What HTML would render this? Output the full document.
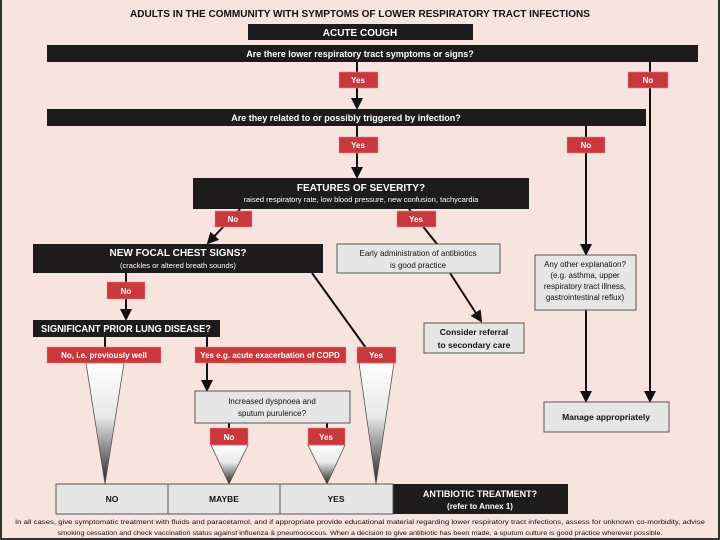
<!DOCTYPE html>
<html><head><style>
html,body{margin:0;padding:0;width:720px;height:540px;overflow:hidden;background:#f7e4df}
svg text{font-family:"Liberation Sans Narrow","Liberation Sans",sans-serif}
</style></head><body>
<svg width="720" height="540" viewBox="0 0 720 540" xmlns="http://www.w3.org/2000/svg">
<defs>
<linearGradient id="g" x1="0" y1="0" x2="0" y2="1"><stop offset="0" stop-color="#fff"/><stop offset="0.45" stop-color="#e8e8e8"/><stop offset="1" stop-color="#222"/></linearGradient>
<marker id="a" markerWidth="12" markerHeight="12" refX="10" refY="6" orient="auto" markerUnits="userSpaceOnUse"><path d="M0,0 L12,6 L0,12 Z" fill="#111"/></marker>
</defs>
<rect width="720" height="540" fill="#f7e4df"/>
<line x1="1" y1="0" x2="1" y2="540" stroke="#333" stroke-width="2"/>
<line x1="719" y1="0" x2="719" y2="540" stroke="#333" stroke-width="2"/>
<line x1="0" y1="539" x2="720" y2="539" stroke="#333" stroke-width="2"/>
<g fill="#111" font-weight="bold">
<text x="360" y="17" text-anchor="middle" font-size="10.5" textLength="460" lengthAdjust="spacingAndGlyphs">ADULTS IN THE COMMUNITY WITH SYMPTOMS OF LOWER RESPIRATORY TRACT INFECTIONS</text>
</g>
<g stroke="#111" stroke-width="2" fill="none">
<line x1="357" y1="62" x2="357" y2="108" marker-end="url(#a)"/>
<line x1="650" y1="62" x2="650" y2="401" marker-end="url(#a)"/>
<line x1="357" y1="126" x2="357" y2="177" marker-end="url(#a)"/>
<line x1="586" y1="126" x2="586" y2="254" marker-end="url(#a)"/>
<line x1="586" y1="310" x2="586" y2="401" marker-end="url(#a)"/>
<line x1="240" y1="209" x2="208" y2="243" marker-end="url(#a)"/>
<line x1="409" y1="209" x2="437" y2="244"/>
<line x1="450" y1="273" x2="481" y2="321" marker-end="url(#a)"/>
<line x1="312" y1="273" x2="366" y2="348"/>
<line x1="126" y1="273" x2="126" y2="319" marker-end="url(#a)"/>
<line x1="105" y1="337" x2="105" y2="347"/>
<line x1="207" y1="337" x2="207" y2="390" marker-end="url(#a)"/>
<line x1="229" y1="423" x2="229" y2="430"/>
<line x1="327" y1="423" x2="327" y2="430"/>
</g>
<g fill="url(#g)" stroke="#555" stroke-width="0.8">
<path d="M86,363 L124,363 L105,484 Z"/>
<path d="M359,363 L394,363 L376,484 Z"/>
<path d="M211,445 L248,445 L229,484 Z"/>
<path d="M308,445 L345,445 L327,484 Z"/>
</g>
<g fill="#1e1b1c">
<rect x="248" y="24" width="225" height="16"/>
<rect x="47" y="45" width="651" height="17"/>
<rect x="47" y="109" width="599" height="17"/>
<rect x="193" y="178" width="336" height="31"/>
<rect x="33" y="244" width="290" height="29"/>
<rect x="33" y="320" width="187" height="17"/>
<rect x="393" y="484" width="175" height="30"/>
</g>
<g fill="#fff" font-weight="bold" text-anchor="middle">
<text x="360" y="36" font-size="10">ACUTE COUGH</text>
<text x="360" y="57" font-size="9">Are there lower respiratory tract symptoms or signs?</text>
<text x="346" y="121" font-size="9">Are they related to or possibly triggered by infection?</text>
<text x="361" y="191" font-size="10">FEATURES OF SEVERITY?</text>
<text x="178" y="256" font-size="10">NEW FOCAL CHEST SIGNS?</text>
<text x="126" y="332" font-size="10" textLength="170" lengthAdjust="spacingAndGlyphs">SIGNIFICANT PRIOR LUNG DISEASE?</text>
<text x="480" y="497" font-size="9">ANTIBIOTIC TREATMENT?</text>
<text x="480" y="509" font-size="8">(refer to Annex 1)</text>
</g>
<g fill="#fff" font-size="7.5" text-anchor="middle">
<text x="361" y="202">raised respiratory rate,  low blood pressure,  new confusion, tachycardia</text>
<text x="178" y="268">(crackles or altered breath sounds)</text>
</g>
<g fill="#c9383d" stroke="#e88" stroke-width="0.5">
<rect x="339" y="72" width="39" height="16"/>
<rect x="628" y="72" width="40" height="16"/>
<rect x="339" y="137" width="39" height="16"/>
<rect x="567" y="137" width="38" height="16"/>
<rect x="215" y="211" width="37" height="16"/>
<rect x="397" y="211" width="39" height="16"/>
<rect x="107" y="282" width="38" height="17"/>
<rect x="47" y="347" width="114" height="16"/>
<rect x="195" y="347" width="151" height="16"/>
<rect x="357" y="347" width="39" height="16"/>
<rect x="210" y="428" width="38" height="17"/>
<rect x="308" y="428" width="37" height="17"/>
</g>
<g fill="#fff" font-size="8" font-weight="bold" text-anchor="middle">
<text x="358" y="83">Yes</text><text x="648" y="83">No</text>
<text x="358" y="148">Yes</text><text x="586" y="148">No</text>
<text x="233" y="222">No</text><text x="416" y="222">Yes</text>
<text x="126" y="294">No</text>
<text x="104" y="358">No, i.e. previously well</text>
<text x="270" y="358">Yes e.g. acute exacerbation of COPD</text>
<text x="376" y="358">Yes</text>
<text x="229" y="440">No</text><text x="326" y="440">Yes</text>
</g>
<g fill="#e6e6e6" stroke="#555" stroke-width="1">
<rect x="337" y="244" width="163" height="29"/>
<rect x="424" y="323" width="100" height="30"/>
<rect x="535" y="255" width="101" height="55"/>
<rect x="544" y="402" width="125" height="30"/>
<rect x="195" y="391" width="155" height="32"/>
<rect x="56" y="484" width="112" height="30"/>
<rect x="168" y="484" width="112" height="30"/>
<rect x="280" y="484" width="113" height="30"/>
</g>
<g fill="#111" font-size="8" text-anchor="middle">
<text x="418" y="256">Early administration of antibiotics</text>
<text x="418" y="268">is good practice</text>
<text x="585" y="267">Any other explanation?</text>
<text x="585" y="278">(e.g. asthma, upper</text>
<text x="585" y="289">respiratory tract illness,</text>
<text x="585" y="300">gastrointestinal reflux)</text>
<text x="272" y="404">Increased dyspnoea and</text>
<text x="272" y="416">sputum purulence?</text>
</g>
<g fill="#111" font-size="8.5" font-weight="bold" text-anchor="middle">
<text x="474" y="335">Consider referral</text>
<text x="474" y="348">to secondary care</text>
<text x="606" y="420">Manage appropriately</text>
<text x="112" y="502">NO</text>
<text x="224" y="502">MAYBE</text>
<text x="336" y="502">YES</text>
</g>
<g fill="#111" font-size="6.6" text-anchor="middle">
<text x="360" y="524" textLength="690" lengthAdjust="spacingAndGlyphs">In all cases, give symptomatic treatment with fluids and paracetamol, and if appropriate provide educational material regarding lower respiratory tract infections, assess for unknown co-morbidity, advise</text>
<text x="360" y="535" textLength="605" lengthAdjust="spacingAndGlyphs">smoking cessation and check vaccination status against influenza &amp; pneumococcus. When a decision to give antibiotic has been made, a sputum culture is good practice wherever possible.</text>
</g>
</svg>
</body></html>
